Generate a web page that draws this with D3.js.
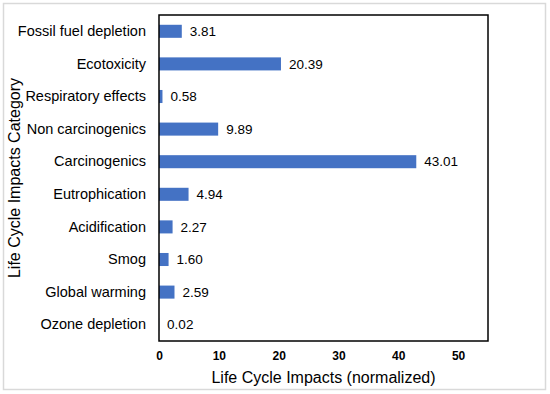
<!DOCTYPE html>
<html>
<head>
<meta charset="utf-8">
<script src="https://cdn.jsdelivr.net/npm/d3@7"></script>
<style>
  body { margin: 0; background: #fff; }
  svg { display: block; font-family: Arial, "Liberation Sans", sans-serif; }
</style>
</head>
<body>
<div id="chart"></div>
<script>
// categories top to bottom
const categories = [
    "Fossil fuel depletion", "Ecotoxicity", "Respiratory effects", "Non carcinogenics",
    "Carcinogenics", "Eutrophication", "Acidification", "Smog", "Global warming", "Ozone depletion"
];
const values = [3.81, 20.39, 0.58, 9.89, 43.01, 4.94, 2.27, 1.60, 2.59, 0.02];
const xTicks = [0, 10, 20, 30, 40, 50];

const width = 550, height = 394;
const margin = {top: 15, right: 62, bottom: 53, left: 159};
const font = "Arial, 'Liberation Sans', sans-serif";

const svg = d3.select("#chart").append("svg")
    .attr("width", width)
    .attr("height", height);

// outer chart border
svg.append("rect")
    .attr("x", 3.5).attr("y", 3.5)
    .attr("width", 542).attr("height", 386)
    .attr("fill", "#fff")
    .attr("stroke", "#d9d9d9")
    .attr("stroke-width", 1.5);

const x = d3.scaleLinear()
    .domain([0, 55])
    .range([margin.left, width - margin.right]);

const y = d3.scaleBand()
    .domain(categories)
    .range([margin.top, height - margin.bottom])
    .paddingInner(0.6)
    .paddingOuter(0.3);

// bars
svg.append("g")
    .selectAll("rect")
    .data(values)
    .enter()
    .append("rect")
    .attr("x", x(0))
    .attr("y", (d, i) => y(categories[i]))
    .attr("width", d => x(d) - x(0))
    .attr("height", y.bandwidth())
    .attr("fill", "#4472c4");

// value labels
svg.append("g")
    .selectAll("text")
    .data(values)
    .enter()
    .append("text")
    .attr("x", d => x(d) + 8)
    .attr("y", (d, i) => y(categories[i]) + y.bandwidth() / 2)
    .attr("dy", "0.35em")
    .attr("font-size", 13.5)
    .attr("fill", "#000")
    .text(d => d.toFixed(2));

// y axis (category labels)
const yAxis = svg.append("g")
    .attr("transform", "translate(" + margin.left + ",0)")
    .call(d3.axisLeft(y).tickSize(0).tickPadding(13));
yAxis.attr("font-family", font);
yAxis.select(".domain").remove();
yAxis.selectAll("text").attr("font-size", 14.5).attr("fill", "#000");

// x axis ticks
const xAxis = svg.append("g")
    .attr("transform", "translate(0," + (height - margin.bottom) + ")")
    .call(d3.axisBottom(x).tickValues(xTicks).tickSize(0).tickPadding(10));
xAxis.attr("font-family", font);
xAxis.select(".domain").remove();
xAxis.selectAll("text")
    .attr("font-size", 12)
    .attr("font-weight", "bold")
    .attr("fill", "#000");

// plot frame
svg.append("rect")
    .attr("x", margin.left)
    .attr("y", margin.top)
    .attr("width", width - margin.left - margin.right)
    .attr("height", height - margin.top - margin.bottom)
    .attr("fill", "none")
    .attr("stroke", "#000")
    .attr("stroke-width", 1.5);

// axis titles
svg.append("text")
    .attr("x", (margin.left + width - margin.right) / 2)
    .attr("y", 383)
    .attr("text-anchor", "middle")
    .attr("font-size", 16)
    .text("Life Cycle Impacts (normalized)");

svg.append("text")
    .attr("transform", "translate(20," + ((margin.top + height - margin.bottom) / 2) + ") rotate(-90)")
    .attr("text-anchor", "middle")
    .attr("font-size", 16)
    .text("Life Cycle Impacts Category");
</script>
</body>
</html>
